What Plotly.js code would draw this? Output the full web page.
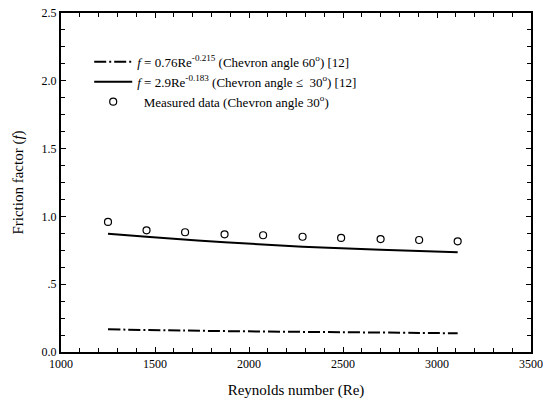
<!DOCTYPE html>
<html>
<head>
<meta charset="utf-8">
<script src="https://cdn.plot.ly/plotly-3.0.1.min.js"></script>
<style>html,body{margin:0;padding:0;background:#fff;}#chart{width:543px;height:404px;}</style>
</head>
<body>
<div id="chart"></div>
<script>
// Measured data (Chevron angle 30°)
var reMeasured = [1250, 1455, 1660, 1870, 2075, 2285, 2490, 2700, 2905, 3110];
var fMeasured = [0.959, 0.897, 0.883, 0.868, 0.861, 0.850, 0.841, 0.833, 0.826, 0.816];
// Correlation, chevron angle <= 30° (solid)
var reSolid = [1250, 1455, 1870, 2285, 2700, 3110];
var fSolid = [0.872, 0.850, 0.809, 0.777, 0.754, 0.735];
// Correlation, chevron angle 60° (dash-dot)
var reDashDot = [1250, 1660, 2075, 2490, 2905, 3110];
var fDashDot = [0.167, 0.158, 0.151, 0.146, 0.141, 0.138];

var xTickVals = [1000, 1500, 2000, 2500, 3000, 3500];
var xTickText = ['1000', '1500', '2000', '2500', '3000', '3500'];
var yTickVals = [0, 0.5, 1.0, 1.5, 2.0, 2.5];
var yTickText = ['0.0', '.5', '1.0', '1.5', '2.0', '2.5'];

var serif = 'Liberation Serif';

var traces = [
  {
    x: reDashDot, y: fDashDot, type: 'scatter', mode: 'lines',
    name: '<i>f</i> = 0.76Re<sup>-0.215</sup> (Chevron angle 60<sup>o</sup>) [12]',
    line: {color: '#000000', width: 2, dash: '12px,3px,2px,3px', shape: 'spline'}
  },
  {
    x: reSolid, y: fSolid, type: 'scatter', mode: 'lines',
    name: '<i>f</i> = 2.9Re<sup>-0.183</sup> (Chevron angle \u2264  30<sup>o</sup>) [12]',
    line: {color: '#000000', width: 2, shape: 'spline'}
  },
  {
    x: reMeasured, y: fMeasured, type: 'scatter', mode: 'markers',
    name: '\u00a0\u00a0Measured data (Chevron angle 30<sup>o</sup>)',
    marker: {symbol: 'circle-open', size: 7, color: '#000000', line: {width: 1.2, color: '#000000'}}
  }
];

function axisBase() {
  return {
    showgrid: false, zeroline: false,
    showline: true, linecolor: '#000000', linewidth: 2, mirror: 'ticks',
    ticks: 'inside', ticklen: 5, tickwidth: 1, tickcolor: '#000000',
    tickfont: {family: serif, size: 12, color: '#000000'}
  };
}

var xaxis = axisBase();
xaxis.range = [1000, 3500];
xaxis.tickvals = xTickVals;
xaxis.ticktext = xTickText;
xaxis.minor = {dtick: 100, ticks: 'inside', ticklen: 4, tickwidth: 1, tickcolor: '#000000', showgrid: false};
xaxis.title = {text: 'Reynolds number (Re)', font: {family: serif, size: 15, color: '#000000'}, standoff: 14};

var yaxis = axisBase();
yaxis.range = [0, 2.5];
yaxis.tickvals = yTickVals;
yaxis.ticktext = yTickText;
yaxis.minor = {dtick: 0.125, ticks: 'inside', ticklen: 4, tickwidth: 1, tickcolor: '#000000', showgrid: false};
yaxis.title = {text: 'Friction factor (<i>f</i>)', font: {family: serif, size: 15, color: '#000000'}, standoff: 14};

var layout = {
  width: 543, height: 404,
  font: {family: serif, size: 12, color: '#000000'},
  margin: {l: 61, r: 12, t: 13, b: 52},
  paper_bgcolor: '#ffffff', plot_bgcolor: '#ffffff',
  showlegend: true,
  legend: {
    x: 0.06, y: 0.9, xanchor: 'left', yanchor: 'top',
    bgcolor: 'rgba(0,0,0,0)', borderwidth: 0,
    font: {family: serif, size: 13, color: '#000000'},
    itemwidth: 38,
    tracegroupgap: 0
  },
  xaxis: xaxis,
  yaxis: yaxis
};

Plotly.newPlot('chart', traces, layout, {displayModeBar: false, staticPlot: true});
</script>
</body>
</html>
